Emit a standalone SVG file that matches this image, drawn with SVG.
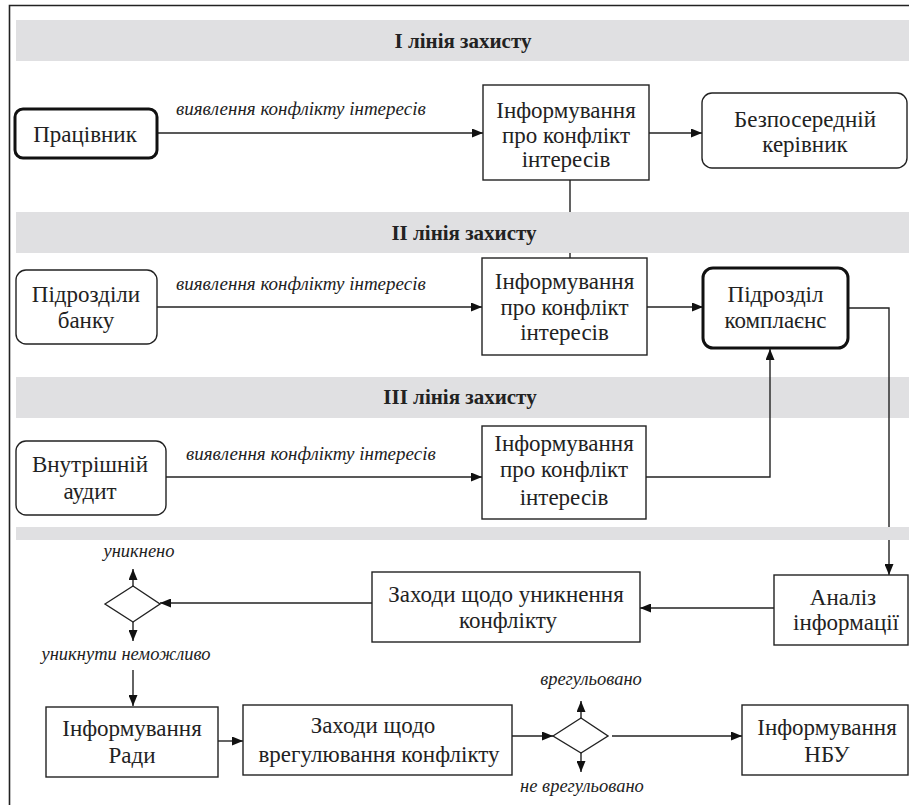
<svg xmlns="http://www.w3.org/2000/svg" width="909" height="805" viewBox="0 0 909 805">
<style>
.band{fill:#e0e0e2;stroke:none}
.bt{font-family:"Liberation Serif","DejaVu Serif",serif;font-weight:bold;font-size:21px;fill:#222;text-anchor:middle}
.box{fill:#fff;stroke:#222;stroke-width:1.4}
.thick{fill:#fff;stroke:#111;stroke-width:3}
.t{font-family:"Liberation Serif","DejaVu Serif",serif;font-size:23px;fill:#222;text-anchor:middle}
.lbl{font-family:"Liberation Serif","DejaVu Serif",serif;font-style:italic;font-size:19px;fill:#222}
.dl{font-family:"Liberation Serif","DejaVu Serif",serif;font-style:italic;font-size:18.5px;fill:#222;text-anchor:middle}
.c{fill:none;stroke:#222;stroke-width:1.4}
</style>
<defs>
<marker id="ah" viewBox="0 0 11 9" refX="11" refY="4.5" markerWidth="11" markerHeight="9" markerUnits="userSpaceOnUse" orient="auto">
<path d="M0,0 L11,4.5 L0,9 z" fill="#111"/>
</marker>
</defs>
<rect width="909" height="805" fill="#fff"/>
<path d="M9.5,810 V5.5 H915" fill="none" stroke="#222" stroke-width="1.6"/>
<g id="bands">
<rect class="band" x="16" y="20" width="893" height="41"/>
<rect class="band" x="16" y="212" width="893" height="41"/>
<rect class="band" x="16" y="377" width="893" height="41"/>
<rect class="band" x="16" y="527" width="893" height="13"/>
<text class="bt" x="463" y="48">І лінія захисту</text>
<text class="bt" x="464" y="240">ІІ лінія захисту</text>
<text class="bt" x="460" y="404">ІІІ лінія захисту</text>
</g>
<g id="connectors">
<path class="c" d="M157,133 H483" marker-end="url(#ah)"/>
<path class="c" d="M649,133 H702" marker-end="url(#ah)"/>
<path class="c" d="M570,180 V212 M570,253 V258"/>
<path class="c" d="M157,307 H482" marker-end="url(#ah)"/>
<path class="c" d="M647,307 H703" marker-end="url(#ah)"/>
<path class="c" d="M848,308 H889 V527"/>
<path class="c" d="M889,540 V575" marker-end="url(#ah)"/>
<path class="c" d="M166,477 H482" marker-end="url(#ah)"/>
<path class="c" d="M646,477 H770 V349" marker-end="url(#ah)"/>
<path class="c" d="M774,608 H640" marker-end="url(#ah)"/>
<path class="c" d="M372,603 H160" marker-end="url(#ah)"/>
<path class="c" d="M133,586 V569" marker-end="url(#ah)"/>
<path class="c" d="M133,622 V641" marker-end="url(#ah)"/>
<path class="c" d="M133,670 V706" marker-end="url(#ah)"/>
<path class="c" d="M218,741 H243" marker-end="url(#ah)"/>
<path class="c" d="M512,736 H553" marker-end="url(#ah)"/>
<path class="c" d="M581,718 V701" marker-end="url(#ah)"/>
<path class="c" d="M581,753 V772" marker-end="url(#ah)"/>
<path class="c" d="M612,736 H742" marker-end="url(#ah)"/>
<text class="lbl" x="176" y="115">виявлення конфлікту інтересів</text>
<text class="lbl" x="176" y="290">виявлення конфлікту інтересів</text>
<text class="lbl" x="186" y="460">виявлення конфлікту інтересів</text>
<text class="dl" x="139" y="557">уникнено</text>
<text class="dl" x="126" y="660">уникнути неможливо</text>
<text class="dl" x="591" y="685">врегульовано</text>
<text class="dl" x="582" y="792">не врегульовано</text>
</g>
<g id="pracivnyk">
<rect class="thick" x="15" y="109" width="142" height="49" rx="8"/>
<text class="t" x="85" y="142">Працівник</text>
</g>
<g id="info1">
<rect class="box" x="483" y="85" width="166" height="95"/>
<text class="t" x="566" y="118">Інформування</text>
<text class="t" x="566" y="143">про конфлікт</text>
<text class="t" x="566" y="167">інтересів</text>
</g>
<g id="kerivnyk">
<rect class="box" x="702" y="93" width="205" height="75" rx="10"/>
<text class="t" x="805" y="127">Безпосередній</text>
<text class="t" x="805" y="152">керівник</text>
</g>
<g id="pidrozdily">
<rect class="box" x="16" y="270" width="141" height="74" rx="10"/>
<text class="t" x="86" y="302">Підрозділи</text>
<text class="t" x="86" y="328">банку</text>
</g>
<g id="info2">
<rect class="box" x="482" y="258" width="165" height="97"/>
<text class="t" x="564.5" y="289">Інформування</text>
<text class="t" x="564.5" y="315">про конфлікт</text>
<text class="t" x="564.5" y="340">інтересів</text>
</g>
<g id="compliance">
<rect class="thick" x="703" y="268" width="145" height="80" rx="10"/>
<text class="t" x="775.5" y="302">Підрозділ</text>
<text class="t" x="775.5" y="328">комплаєнс</text>
</g>
<g id="audit">
<rect class="box" x="16" y="441" width="150" height="74" rx="10"/>
<text class="t" x="90" y="472">Внутрішній</text>
<text class="t" x="90" y="499">аудит</text>
</g>
<g id="info3">
<rect class="box" x="482" y="426" width="164" height="93"/>
<text class="t" x="564" y="451">Інформування</text>
<text class="t" x="564" y="477">про конфлікт</text>
<text class="t" x="564" y="505">інтересів</text>
</g>
<g id="analiz">
<rect class="box" x="774" y="575" width="134" height="70"/>
<text class="t" x="843" y="605">Аналіз</text>
<text class="t" x="846" y="630">інформації</text>
</g>
<g id="zakhody-unyk">
<rect class="box" x="372" y="572" width="268" height="70"/>
<text class="t" x="506" y="602">Заходи щодо уникнення</text>
<text class="t" x="508" y="628">конфлікту</text>
</g>
<g id="diamond1">
<polygon class="box" points="105,604 133,586 160,604 133,622"/>
</g>
<g id="rady">
<rect class="box" x="46" y="707" width="172" height="70"/>
<text class="t" x="132" y="736">Інформування</text>
<text class="t" x="132" y="763">Ради</text>
</g>
<g id="zakhody-vreg">
<rect class="box" x="243" y="705" width="269" height="70"/>
<text class="t" x="373" y="733">Заходи щодо</text>
<text class="t" x="379" y="762">врегулювання конфлікту</text>
</g>
<g id="diamond2">
<polygon class="box" points="553,736 581,718 608,736 581,753"/>
</g>
<g id="nbu">
<rect class="box" x="742" y="705" width="166" height="70"/>
<text class="t" x="827" y="735">Інформування</text>
<text class="t" x="827" y="762">НБУ</text>
</g>
</svg>
